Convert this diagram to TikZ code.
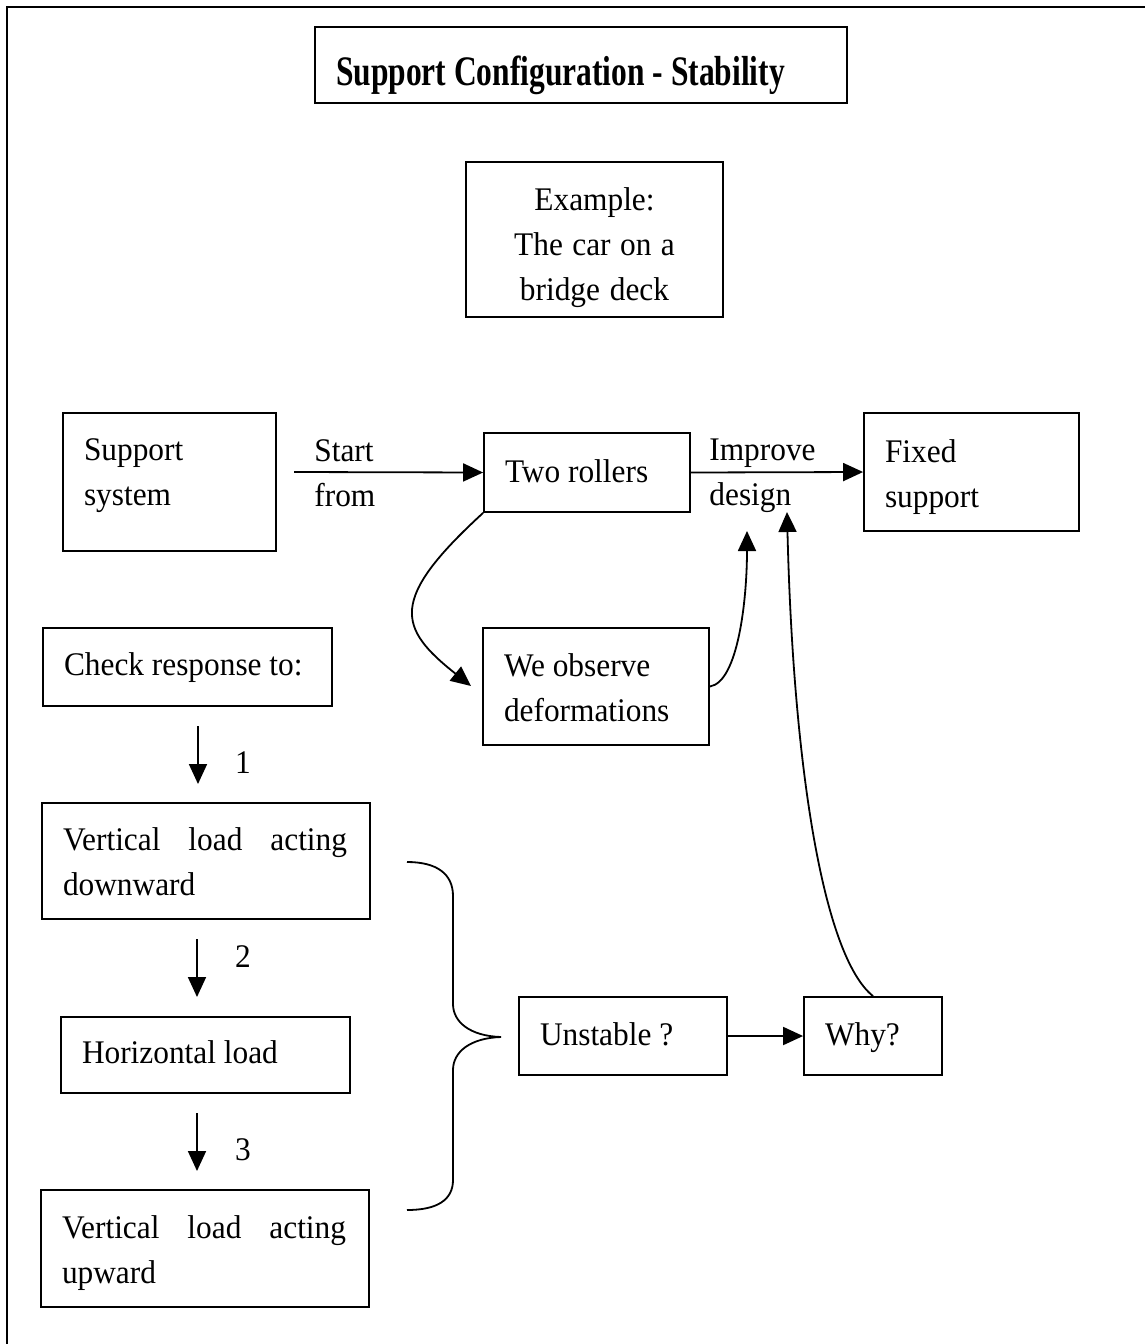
\documentclass[tikz,border=0pt]{standalone}
\usepackage{fontspec}
\setmainfont{Liberation Serif}[FakeStretch=0.95]
\newfontfamily\titlefont{Liberation Serif}[FakeStretch=0.75]
\usetikzlibrary{arrows.meta}

\tikzset{
  box/.style={draw, line width=0.9pt, inner xsep=10.5pt, inner ysep=0pt, align=left},
  txtdown/.style={text height=#1, text depth=0pt},
  txtup/.style={text height=0pt, text depth=#1},
  plain/.style={inner sep=0pt, align=left},
  arr/.style={line width=0.9pt, -{Triangle[length=10pt,width=9pt]}},
  link/.style={line width=0.9pt},
  bodyfont/.style={font=\fontsize{16.5pt}{22.5pt}\selectfont},
}

\begin{document}
\begin{tikzpicture}[x=0.5pt, y=-0.5pt,
  every node/.append style={bodyfont,
    execute at begin node={\spaceskip=0pt\relax\xspaceskip=0pt\relax}}]
\useasboundingbox (0,0) rectangle (1145,1344);

% page frame (top and left edges)
\draw[line width=1.4pt] (1145,7) -- (7,7) -- (7,1344);

% title and example
\node[box, txtdown=20.5pt, text width=245pt, minimum height=38pt,
      font=\fontsize{21pt}{22.5pt}\titlefont\bfseries]
  (title) at (581,65) {Support Configuration - Stability};
\node[box, txtup=29.5pt, align=center, text width=107.5pt, minimum height=77.5pt]
  (example) at (594.5,239.5) {Example:\\The car on a\\bridge deck};

% main row
\node[box, txtup=22pt, text width=85.5pt, minimum height=69pt]
  (support) at (169.5,482) {Support\\system};
\node[box, txtdown=9.5pt, text width=82pt, minimum height=39.5pt]
  (rollers) at (587,472.5) {Two rollers};
\node[box, txtup=10pt, text width=86.5pt, minimum height=59pt]
  (fixed) at (971.5,472) {Fixed\\support};
\node[box, txtup=10.5pt, text width=92pt, minimum height=58.5pt]
  (observe) at (596,686.5) {We observe\\deformations};

\node[plain, anchor=west] (startlbl) at (314,473) {Start\\from};
\node[plain, anchor=west] (improvelbl) at (709,476) {Improve\\design};

% load checks
\node[box, txtdown=8pt, text width=123.5pt, minimum height=39pt]
  (check) at (187.5,667) {Check response to:};
\node[box, txtup=11pt, text width=143pt, minimum height=58pt]
  (vdown) at (206,861) {\makebox[142pt]{Vertical\hfill load\hfill acting}\\downward};
\node[box, txtdown=8pt, text width=123.5pt, minimum height=38pt]
  (horiz) at (205.5,1055) {Horizontal load};
\node[box, txtup=10.5pt, text width=143pt, minimum height=58.5pt]
  (vup) at (205,1248.5) {\makebox[142pt]{Vertical\hfill load\hfill acting}\\upward};

\node[plain] (n1) at (243,763) {1};
\node[plain] (n2) at (243,957) {2};
\node[plain] (n3) at (243,1150) {3};

% stability
\node[box, txtdown=9pt, text width=83pt, minimum height=39pt]
  (unstable) at (623,1036) {Unstable ?};
\node[box, txtdown=9pt, text width=48pt, minimum height=39pt]
  (why) at (873,1036) {Why?};

% connector end points
\coordinate (startfree) at (294,472);
\coordinate (a1s) at (198,726);  \coordinate (a1e) at (198,784);
\coordinate (a2s) at (197,939);  \coordinate (a2e) at (197,997);
\coordinate (a3s) at (197,1113); \coordinate (a3e) at (197,1171);
\coordinate (obsTip) at (471,686);
\coordinate (designTipA) at (747,531);
\coordinate (designTipB) at (787,512);

% straight arrows
\draw[arr] (startfree) -- (rollers.west);
\draw[arr] (rollers.east) -- (fixed.west);
\draw[arr] (a1s) -- (a1e);
\draw[arr] (a2s) -- (a2e);
\draw[arr] (a3s) -- (a3e);
\draw[arr] (unstable.east) -- (why.west);

% curved arrows
\draw[arr] (rollers.south west) .. controls (388,600) and (398,628) .. (obsTip);
\draw[arr] (observe.east) .. controls (738,682) and (747,600) .. (designTipA);
\draw[arr] (why.north) .. controls (822,955) and (793,760) .. (designTipB);

% brace gathering the three load cases
\coordinate (braceTop) at (407,862);
\coordinate (braceTip) at (501,1037);
\coordinate (braceBot) at (407,1210);
\draw[link] (braceTop) .. controls (437,862) and (453,874) .. (453,896)
  -- (453,1004) .. controls (453,1022) and (470,1036) .. (braceTip)
  .. controls (470,1038) and (453,1052) .. (453,1070)
  -- (453,1180) .. controls (453,1200) and (437,1210) .. (braceBot);
\end{tikzpicture}
\end{document}
